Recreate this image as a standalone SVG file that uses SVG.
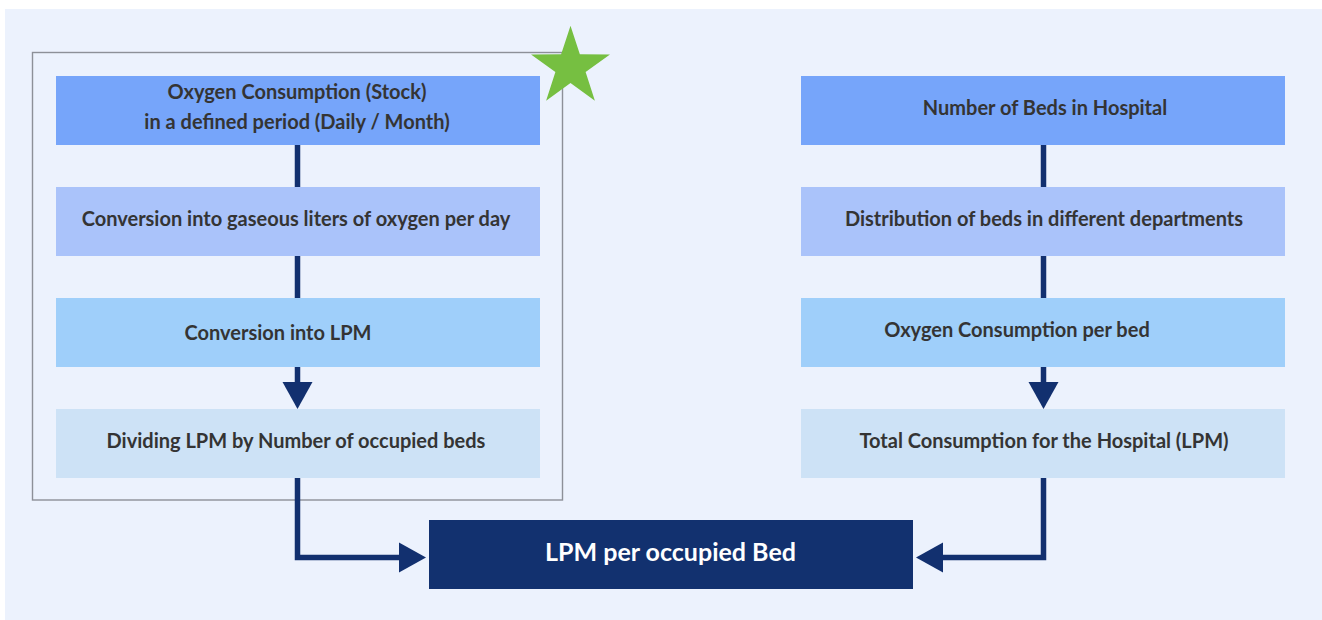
<svg xmlns="http://www.w3.org/2000/svg" width="1322" height="620" viewBox="0 0 1322 620">
  <style>
    .lbl { font-family: Lato, "Noto Sans", "Liberation Sans", sans-serif; font-weight: 700; font-size: 20px; fill: #343434; text-anchor: middle; }
    .lbl-main { font-family: Lato, "Noto Sans", "Liberation Sans", sans-serif; font-weight: 700; font-size: 25px; fill: #ffffff; text-anchor: middle; }
    .c1 { fill: #76a5fa; }
    .c2 { fill: #aac3fa; }
    .c3 { fill: #9fcffa; }
    .c4 { fill: #cde2f6; }
    .conn { fill: none; stroke: #12306f; stroke-width: 5.5; stroke-linejoin: miter; }
  </style>
  <defs>
    <marker id="arrow" markerUnits="userSpaceOnUse" markerWidth="27" markerHeight="30" refX="0" refY="15" orient="auto" overflow="visible">
      <path d="M0,0 L27,15 L0,30 Z" fill="#12306f"/>
    </marker>
  </defs>

  <!-- background panel -->
  <rect x="0" y="0" width="1322" height="620" fill="#ffffff"/>
  <rect x="5" y="9" width="1317" height="611" fill="#ecf2fd"/>

  <!-- frame around the stock-based method -->
  <rect id="frame" x="32.5" y="52.5" width="530" height="447.5" fill="none" stroke="#8d9098" stroke-width="1.4"/>

  <!-- connectors -->
  <g id="connectors">
    <path class="conn" d="M297.5 145 V382" marker-end="url(#arrow)"/>
    <path class="conn" d="M1043.5 145 V382" marker-end="url(#arrow)"/>
    <path class="conn" d="M297.5 477 V557.5 H399" marker-end="url(#arrow)"/>
    <path class="conn" d="M1043.5 477 V557.5 H943" marker-end="url(#arrow)"/>
  </g>

  <!-- left column -->
  <g id="stock">
    <rect class="c1" x="56" y="76" width="484" height="69"/>
    <text class="lbl" x="297" y="99">Oxygen Consumption (Stock)</text>
    <text class="lbl" x="297" y="129">in a defined period (Daily / Month)</text>
  </g>
  <g id="gaseous">
    <rect class="c2" x="56" y="187" width="484" height="69"/>
    <text class="lbl" x="296" y="226">Conversion into gaseous liters of oxygen per day</text>
  </g>
  <g id="lpm">
    <rect class="c3" x="56" y="298" width="484" height="69"/>
    <text class="lbl" x="278" y="340">Conversion into LPM</text>
  </g>
  <g id="dividing">
    <rect class="c4" x="56" y="409" width="484" height="69"/>
    <text class="lbl" x="296" y="448">Dividing LPM by Number of occupied beds</text>
  </g>

  <!-- right column -->
  <g id="beds">
    <rect class="c1" x="801" y="76" width="484" height="69"/>
    <text class="lbl" x="1045" y="115">Number of Beds in Hospital</text>
  </g>
  <g id="distribution">
    <rect class="c2" x="801" y="187" width="484" height="69"/>
    <text class="lbl" x="1044" y="226">Distribution of beds in different departments</text>
  </g>
  <g id="perbed">
    <rect class="c3" x="801" y="298" width="484" height="69"/>
    <text class="lbl" x="1017" y="337">Oxygen Consumption per bed</text>
  </g>
  <g id="total">
    <rect class="c4" x="801" y="409" width="484" height="69"/>
    <text class="lbl" x="1044" y="448">Total Consumption for the Hospital (LPM)</text>
  </g>

  <!-- result -->
  <g id="result">
    <rect x="429" y="520" width="484" height="69" fill="#12316f"/>
    <text class="lbl-main" x="670.5" y="561">LPM per occupied Bed</text>
  </g>

  <!-- star marker -->
  <polygon id="star" fill="#76bf41" points="570.5,25.7 579.85,54.34 609.97,54.38 585.62,72.11 594.89,100.77 570.5,83.1 546.11,100.77 555.38,72.11 531.03,54.38 561.15,54.34"/>
</svg>
